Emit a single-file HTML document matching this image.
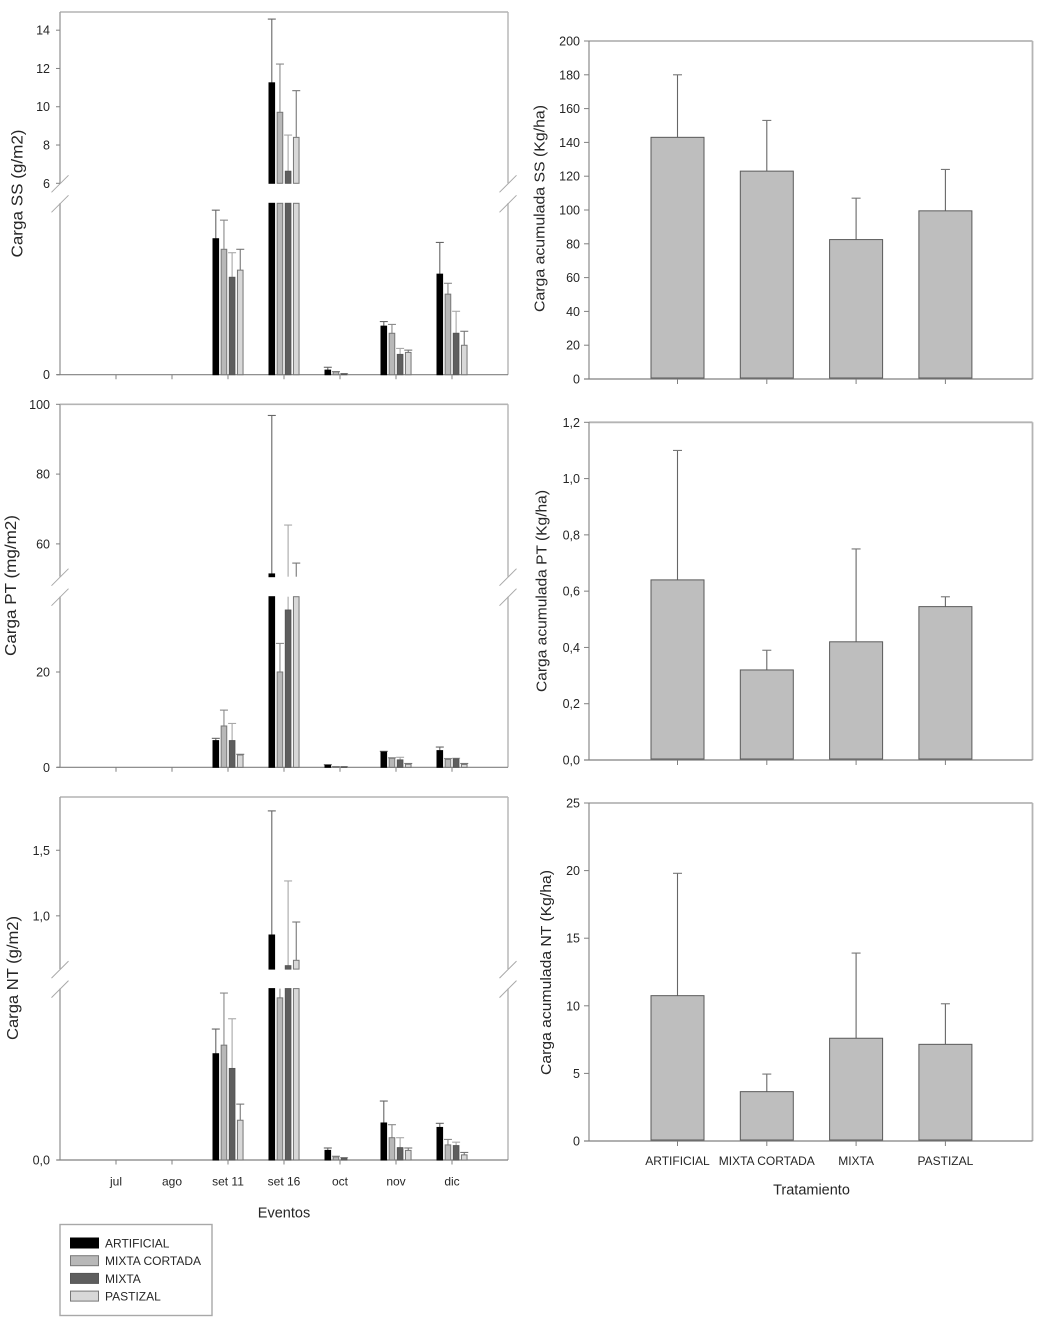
<!DOCTYPE html>
<html lang="es">
<head>
<meta charset="utf-8">
<title>Cargas por evento y acumuladas</title>
<style>
html,body{margin:0;padding:0;background:#fff;}
body{width:1051px;height:1328px;overflow:hidden;}
svg{display:block;filter:blur(0.35px);}
text{font-family:"Liberation Sans",sans-serif;fill:#262626;}
</style>
</head>
<body>
<svg id="chart" xmlns="http://www.w3.org/2000/svg" width="1051" height="1328" viewBox="0 0 1051 1328"></svg>
<script>
const categories = ['jul','ago','set 11','set 16','oct','nov','dic'];
const treatments = ['ARTIFICIAL','MIXTA CORTADA','MIXTA','PASTIZAL'];
const treatmentKeys = ['artificial','mixta-cortada','mixta','pastizal'];

/* Carga SS (g/m2) per event */
const ssArtificial = [null,null,4.76,11.25,0.16,1.70,3.52];
const ssArtificialErr = [null,null,5.76,14.58,0.26,1.86,4.63];
const ssCortada = [null,null,4.39,9.71,0.10,1.45,2.82];
const ssCortadaErr = [null,null,5.41,12.23,0.11,1.76,3.20];
const ssMixta = [null,null,3.41,6.63,0.03,0.71,1.45];
const ssMixtaErr = [null,null,4.27,8.52,0.04,0.92,2.22];
const ssPastizal = [null,null,3.66,8.40,null,0.78,1.03];
const ssPastizalErr = [null,null,4.39,10.84,null,0.86,1.52];
const ssLowTicks = [0];
const ssHighTicks = [6,8,10,12,14];

/* Carga PT (mg/m2) per event */
const ptArtificial = [null,null,5.6,51.4,0.4,3.2,3.5];
const ptArtificialErr = [null,null,6.08,96.8,0.55,3.35,4.25];
const ptCortada = [null,null,8.67,20,0.1,1.9,1.67];
const ptCortadaErr = [null,null,12.0,26.0,0.15,2.0,1.85];
const ptMixta = [null,null,5.6,33.0,0.1,1.55,1.8];
const ptMixtaErr = [null,null,9.2,65.4,0.15,2.1,1.9];
const ptPastizal = [null,null,2.58,40,null,0.63,0.6];
const ptPastizalErr = [null,null,2.73,54.5,null,0.8,0.8];
const ptLowTicks = [0,20];
const ptHighTicks = [60,80,100];

/* Carga NT (g/m2) per event */
const ntArtificial = [null,null,0.31,0.854,0.028,0.108,0.095];
const ntArtificialErr = [null,null,0.382,1.80,0.035,0.172,0.107];
const ntCortada = [null,null,0.335,0.473,0.009,0.065,0.044];
const ntCortadaErr = [null,null,0.487,0.55,0.011,0.103,0.060];
const ntMixta = [null,null,0.267,0.62,0.006,0.036,0.042];
const ntMixtaErr = [null,null,0.412,1.266,0.007,0.065,0.052];
const ntPastizal = [null,null,0.116,0.661,null,0.028,0.015];
const ntPastizalErr = [null,null,0.163,0.953,null,0.035,0.022];
const ntLowTicks = [0];
const ntHighTicks = [1.0,1.5];

/* Accumulated loads per treatment */
const accSS = [143,123,82.5,99.5];
const accSSErr = [180,153,107,124];
const accSSTicks = [0,20,40,60,80,100,120,140,160,180,200];
const accPT = [0.64,0.32,0.42,0.545];
const accPTErr = [1.10,0.39,0.75,0.58];
const accPTTicks = [0,0.2,0.4,0.6,0.8,1.0,1.2];
const accNT = [10.75,3.65,7.6,7.15];
const accNTErr = [19.8,4.95,13.9,10.15];
const accNTTicks = [0,5,10,15,20,25];

const NS = 'http://www.w3.org/2000/svg';
const svg = document.getElementById('chart');
const seriesFill = ['#000000','#b8b8b8','#5e5e5e','#d8d8d8'];
const seriesStroke = ['#000000','#777777','#555555','#777777'];
const errColor = ['#666666','#8a8a8a','#a8a8a8','#777777'];
const FRAME = '#b4b4b4';
const AXIS = '#808080';

function make(tag, attrs, parent) {
  const el = document.createElementNS(NS, tag);
  for (const k in attrs) el.setAttribute(k, attrs[k]);
  (parent || svg).appendChild(el);
  return el;
}
function line(x1, y1, x2, y2, color, w, name, parent) {
  const el = make('line', {x1, y1, x2, y2, stroke: color, 'stroke-width': w}, parent);
  
  
  return el;
}
function label(x, y, str, size, anchor, name, parent, rotate, len) {
  const attrs = {x, y, 'font-size': size, 'text-anchor': anchor};
  if (rotate) attrs.transform = 'rotate(-90 ' + x + ' ' + y + ')';
  if (len) {
    attrs.textLength = len;
    attrs.lengthAdjust = 'spacingAndGlyphs';
  }
  const el = make('text', attrs, parent);
  el.textContent = str;
  
  
  return el;
}
function rectMark(x, y, w, h, fill, stroke, name, parent) {
  const el = make('rect', {x, y, width: w, height: Math.max(h, 0.6), fill, stroke, 'stroke-width': 1}, parent);
  
  
  return el;
}
function fmt(v, decimals) {
  return v.toFixed(decimals).replace('.', ',');
}
const eventX = i => 116 + i * 56;
const seriesOffset = s => -12.2 + s * 8.15;

function brokenPanel(cfg) {
  const g = make('g', {});
  
  
  const yLow = v => cfg.y0 - (v / cfg.lowMax) * (cfg.y0 - cfg.lowTop);
  const yHigh = v => cfg.upBottom - (v - cfg.upMin) / (cfg.upMax - cfg.upMin) * (cfg.upBottom - cfg.top);

  line(60, cfg.top, 508, cfg.top, FRAME, 1.6, cfg.key + '-frame-top', g);
  line(60, cfg.top, 60, cfg.upBottom, '#a0a0a0', 1.4, cfg.key + '-y-axis-upper', g);
  line(60, cfg.lowTop, 60, cfg.y0, '#a0a0a0', 1.4, cfg.key + '-y-axis-lower', g);
  line(508, cfg.top, 508, cfg.upBottom, FRAME, 1.4, cfg.key + '-frame-right-upper', g);
  line(508, cfg.lowTop, 508, cfg.y0, FRAME, 1.4, cfg.key + '-frame-right-lower', g);
  line(57, cfg.y0, 508, cfg.y0, AXIS, 1.2, cfg.key + '-x-axis', g);

  [60, 508].forEach(bx => {
    [cfg.upBottom + 9, cfg.lowTop + 9].forEach(by => {
      line(bx - 8.5, by, bx + 8.5, by - 17, '#a8a8a8', 1, cfg.key + '-axis-break-mark', g);
    });
  });

  cfg.highTicks.forEach(t => {
    const y = yHigh(t);
    line(56, y, 60, y, AXIS, 1, cfg.key + '-y-tick', g);
    label(50, y + 4.5, fmt(t, cfg.decimals), 12.5, 'end', cfg.key + '-y-tick-label', g);
  });
  cfg.lowTicks.forEach(t => {
    const y = yLow(t);
    line(56, y, 60, y, AXIS, 1, cfg.key + '-y-tick', g);
    label(50, y + 4.5, fmt(t, cfg.decimals), 12.5, 'end', cfg.key + '-y-tick-label', g);
  });
  categories.forEach((c, i) => {
    line(eventX(i), cfg.y0, eventX(i), cfg.y0 + 4.5, AXIS, 1, cfg.key + '-x-tick', g);
  });

  cfg.values.forEach((vals, s) => {
    vals.forEach((v, i) => {
      if (v === null) return;
      const cx = eventX(i) + seriesOffset(s);
      const err = cfg.errors[s][i];
      const name = cfg.key + '-bar-' + treatmentKeys[s];
      const errName = cfg.key + '-error-' + treatmentKeys[s];
      /* error bars first so bars sit on top */
      if (v <= cfg.lowMax) {
        line(cx, yLow(v), cx, err <= cfg.lowMax ? yLow(err) : cfg.lowTop, errColor[s], 1.1, errName, g);
      }
      if (err > cfg.upMin) {
        line(cx, v > cfg.upMin ? yHigh(v) : cfg.upBottom, cx, yHigh(err), errColor[s], 1.1, errName, g);
      }
      if (err <= cfg.lowMax) {
        line(cx - 4, yLow(err), cx + 4, yLow(err), errColor[s], 1.1, errName + '-cap', g);
      } else if (err > cfg.upMin) {
        line(cx - 4, yHigh(err), cx + 4, yHigh(err), errColor[s], 1.1, errName + '-cap', g);
      }
      if (v <= cfg.lowMax) {
        rectMark(cx - 2.8, yLow(v), 5.6, cfg.y0 - yLow(v), seriesFill[s], seriesStroke[s], name, g);
      } else {
        rectMark(cx - 2.8, cfg.lowTop, 5.6, cfg.y0 - cfg.lowTop, seriesFill[s], seriesStroke[s], name, g);
        if (v > cfg.upMin) {
          rectMark(cx - 2.8, yHigh(v), 5.6, cfg.upBottom - yHigh(v), seriesFill[s], seriesStroke[s], name, g);
        }
      }
    });
  });
  label(cfg.titleX, cfg.titleY, cfg.title, 15.5, 'middle', cfg.key + '-y-axis-title', g, true, cfg.titleLen);
}

const treatX = i => 677.5 + i * 89.3;
function accPanel(cfg) {
  const g = make('g', {});
  
  
  const y = v => cfg.y0 - (v / cfg.max) * (cfg.y0 - cfg.top);
  line(589, cfg.top, 1032.5, cfg.top, FRAME, 1.8, cfg.key + '-frame-top', g);
  line(1032.5, cfg.top, 1032.5, cfg.y0, FRAME, 1.8, cfg.key + '-frame-right', g);
  line(589, cfg.top, 589, cfg.y0, AXIS, 1.1, cfg.key + '-y-axis', g);
  line(584, cfg.y0, 1032.5, cfg.y0, AXIS, 1.2, cfg.key + '-x-axis', g);
  cfg.ticks.forEach(t => {
    line(584, y(t), 589, y(t), AXIS, 1, cfg.key + '-y-tick', g);
    label(580, y(t) + 4.5, fmt(t, cfg.decimals), 12.5, 'end', cfg.key + '-y-tick-label', g);
  });
  cfg.values.forEach((v, i) => {
    const cx = treatX(i);
    const err = cfg.errors[i];
    line(cx, cfg.y0, cx, cfg.y0 + 5, AXIS, 1, cfg.key + '-x-tick', g);
    line(cx, y(v), cx, y(err), '#666666', 1.1, cfg.key + '-error-' + treatmentKeys[i], g);
    line(cx - 4.5, y(err), cx + 4.5, y(err), '#777777', 1.1, cfg.key + '-error-cap-' + treatmentKeys[i], g);
    rectMark(cx - 26.5, y(v), 53, cfg.y0 - y(v) - 1, '#bebebe', '#5a5a5a', cfg.key + '-bar-' + treatmentKeys[i], g);
  });
  label(cfg.titleX, cfg.titleY, cfg.title, 15, 'middle', cfg.key + '-y-axis-title', g, true, cfg.titleLen);
}

brokenPanel({key:'ss', title:'Carga SS (g/m2)', titleX:22.5, titleY:193.5, titleLen:128, decimals:0,
  top:12, upBottom:183.3, upMin:6, upMax:14.95, lowTop:203.3, lowMax:6, y0:374.7,
  highTicks:ssHighTicks, lowTicks:ssLowTicks,
  values:[ssArtificial,ssCortada,ssMixta,ssPastizal],
  errors:[ssArtificialErr,ssCortadaErr,ssMixtaErr,ssPastizalErr]});
brokenPanel({key:'pt', title:'Carga PT (mg/m2)', titleX:16, titleY:585.5, titleLen:141, decimals:0,
  top:404.3, upBottom:576.7, upMin:50.6, upMax:100, lowTop:596.7, lowMax:35.8, y0:767.3,
  highTicks:ptHighTicks, lowTicks:ptLowTicks,
  values:[ptArtificial,ptCortada,ptMixta,ptPastizal],
  errors:[ptArtificialErr,ptCortadaErr,ptMixtaErr,ptPastizalErr]});
brokenPanel({key:'nt', title:'Carga NT (g/m2)', titleX:18, titleY:978, titleLen:124, decimals:1,
  top:797, upBottom:969.1, upMin:0.594, upMax:1.906, lowTop:988.6, lowMax:0.5, y0:1160,
  highTicks:ntHighTicks, lowTicks:ntLowTicks,
  values:[ntArtificial,ntCortada,ntMixta,ntPastizal],
  errors:[ntArtificialErr,ntCortadaErr,ntMixtaErr,ntPastizalErr]});

categories.forEach((c, i) => {
  label(eventX(i), 1185.5, c, 12, 'middle', 'event-label-' + i, svg);
});
label(284, 1217.5, 'Eventos', 14.5, 'middle', 'x-axis-title-eventos', svg);

accPanel({key:'acc-ss', title:'Carga acumulada SS (Kg/ha)', titleX:544.5, titleY:208.5, titleLen:207, decimals:0,
  top:41, y0:379, max:200, ticks:accSSTicks, values:accSS, errors:accSSErr});
accPanel({key:'acc-pt', title:'Carga acumulada PT (Kg/ha)', titleX:546.5, titleY:591, titleLen:202, decimals:1,
  top:422.3, y0:760, max:1.2, ticks:accPTTicks, values:accPT, errors:accPTErr});
accPanel({key:'acc-nt', title:'Carga acumulada NT (Kg/ha)', titleX:551, titleY:972.5, titleLen:205, decimals:0,
  top:803, y0:1141, max:25, ticks:accNTTicks, values:accNT, errors:accNTErr});

treatments.forEach((t, i) => {
  label(treatX(i), 1165, t, 12, 'middle', 'treatment-label-' + i, svg);
});
label(811.5, 1194.5, 'Tratamiento', 14.5, 'middle', 'x-axis-title-tratamiento', svg);

const legend = make('g', {});


const legendBox = make('rect', {x:60, y:1224.5, width:152, height:91, fill:'#fff', stroke:'#a8a8a8', 'stroke-width':1.4}, legend);


treatments.forEach((t, i) => {
  const cy = 1243 + i * 17.7;
  rectMark(70.5, cy - 5, 28, 10, seriesFill[i], seriesStroke[i], 'legend-swatch-' + treatmentKeys[i], legend);
  label(105, cy + 4.5, t, 12, 'start', 'legend-entry-' + treatmentKeys[i], legend);
});
</script>
</body>
</html>
